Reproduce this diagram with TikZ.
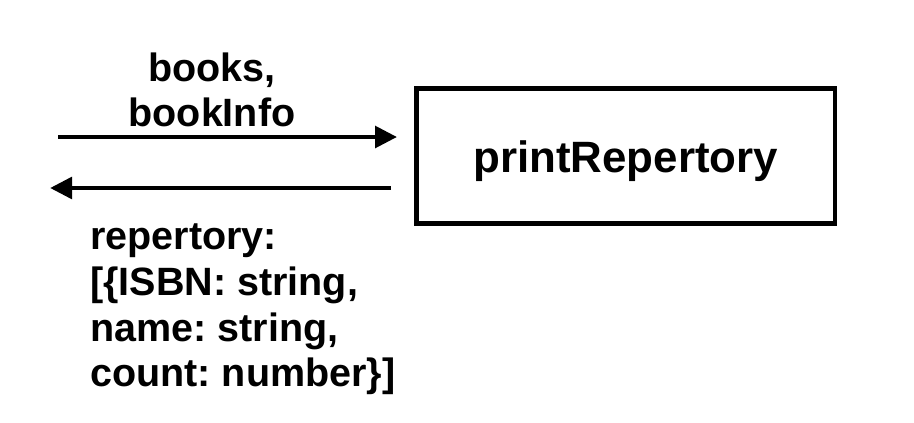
\documentclass[tikz,border=0pt]{standalone}
\usepackage{fontspec}
\setmainfont{Liberation Sans}
\usepackage{tikz}
\usetikzlibrary{calc, arrows.meta, positioning}
\frenchspacing

\begin{document}
\begin{tikzpicture}[>={Triangle[length=5.5mm, width=5.3mm]},
  funcbox/.style={draw, line width=3.5pt, minimum width=10.46cm, minimum height=3.375cm,
    text height=29.9pt, text depth=6.6pt,
    font=\fontsize{31.2pt}{36pt}\selectfont\bfseries},
  flow/.style={->, line width=3.5pt},
  msg/.style={inner sep=0pt, text depth=0pt, font=\fontsize{28.1pt}{32.5pt}\selectfont\bfseries}]
\useasboundingbox (0,0) rectangle (22.85,10.55);
\node[funcbox] (print) at (15.644,6.65) {printRepertory};
\coordinate (inStart) at (1.45,7.125);
\coordinate (outEnd) at (1.25,5.85);
\draw[flow, shorten >=0.425cm] (inStart) -- (inStart -| print.west);
\draw[flow, shorten <=0.575cm] (outEnd -| print.west) -- (outEnd);
\node[msg, align=center, anchor=south] (inMsg) at (5.3,7.375) {books,\\bookInfo};
\node[msg, align=left, anchor=south west] (outMsg) at (2.25,0.875)
  {repertory:\\{[}\{ISBN: string,\\name: string,\\count: number\}]};

\end{tikzpicture}
\end{document}
